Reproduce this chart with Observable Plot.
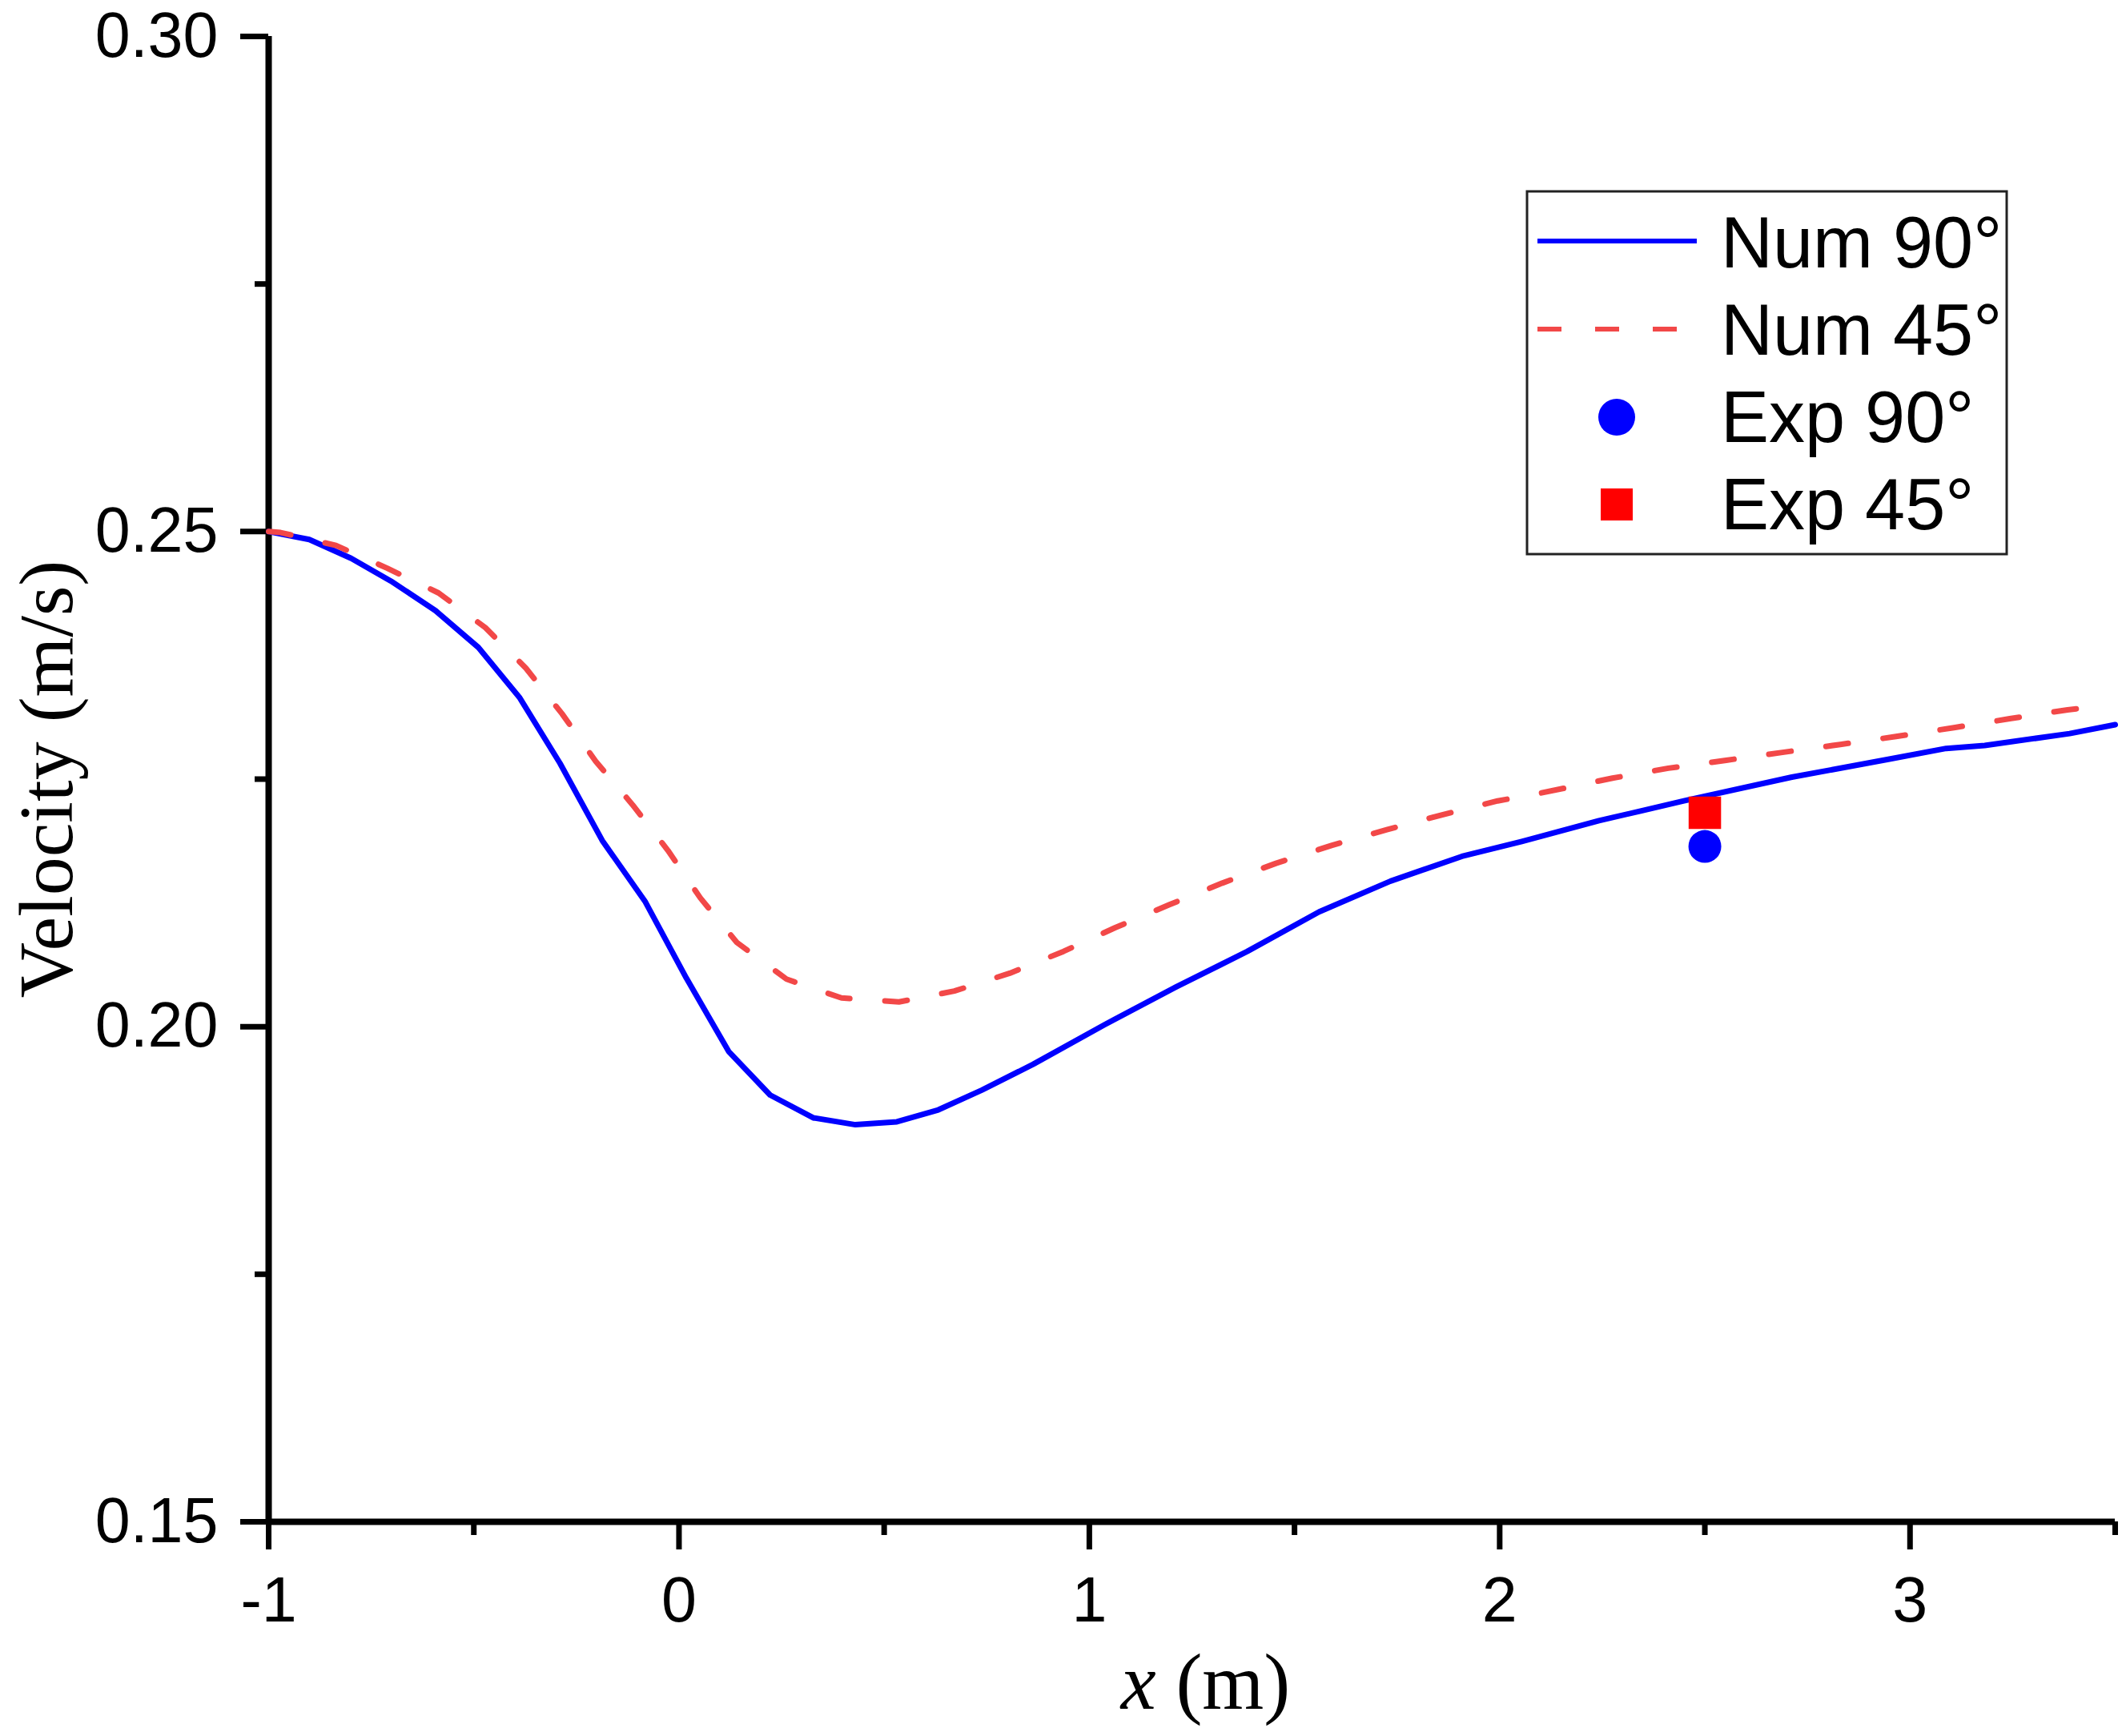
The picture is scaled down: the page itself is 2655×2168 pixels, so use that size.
<!DOCTYPE html>
<html><head><meta charset="utf-8">
<script src="https://cdn.jsdelivr.net/npm/d3@7"></script>
<script src="https://cdn.jsdelivr.net/npm/@observablehq/plot@0.6"></script>
<style>html,body{margin:0;padding:0;background:#fff;} svg{display:block;}</style>
</head><body><div id="chart"></div>
<script>
// Num 90° (solid blue)
const x90 = [-1.0, -0.901, -0.799, -0.702, -0.593, -0.489, -0.388, -0.290, -0.187, -0.082, 0.018, 0.121, 0.222, 0.327, 0.430, 0.531, 0.632, 0.738, 0.863, 1.037, 1.211, 1.385, 1.560, 1.734, 1.908, 2.054, 2.242, 2.449, 2.712, 2.947, 3.088, 3.182, 3.389, 3.5];
const v90 = [0.2500, 0.2492, 0.2473, 0.2450, 0.2420, 0.2383, 0.2332, 0.2266, 0.2188, 0.2126, 0.2049, 0.1975, 0.1931, 0.1908, 0.1901, 0.1904, 0.1916, 0.1936, 0.1962, 0.2002, 0.2040, 0.2076, 0.2116, 0.2147, 0.2172, 0.2187, 0.2208, 0.2228, 0.2252, 0.2270, 0.2281, 0.2284, 0.2296, 0.2305];
// Num 45° (dashed red)
const x45 = [-1.0, -0.971, -0.836, -0.711, -0.586, -0.472, -0.373, -0.285, -0.203, -0.113, -0.027, 0.052, 0.141, 0.262, 0.396, 0.536, 0.671, 0.806, 0.937, 1.063, 1.194, 1.324, 1.455, 1.590, 1.725, 1.860, 1.995, 2.101, 2.275, 2.411, 2.552, 2.689, 2.830, 2.966, 3.107, 3.243, 3.384, 3.45];
const v45 = [0.2500, 0.2499, 0.2486, 0.2463, 0.2438, 0.2403, 0.2362, 0.2316, 0.2268, 0.2224, 0.2178, 0.2130, 0.2085, 0.2048, 0.2029, 0.2025, 0.2036, 0.2054, 0.2076, 0.2100, 0.2123, 0.2145, 0.2165, 0.2183, 0.2199, 0.2214, 0.2228, 0.2236, 0.2251, 0.2261, 0.2269, 0.2277, 0.2285, 0.2293, 0.2302, 0.2311, 0.2320, 0.2323];
// Experiments
const expX = [2.5];
const exp90 = [0.2182];
const exp45 = [0.2216];
// Ticks
const xMajor = [-1, 0, 1, 2, 3];
const xMinor = [-0.5, 0.5, 1.5, 2.5, 3.5];
const yMajor = [0.15, 0.20, 0.25, 0.30];
const yMinor = [0.175, 0.225, 0.275];
const legendLabels = ["Num 90°", "Num 45°", "Exp 90°", "Exp 45°"];
const xTitleVar = "x";
const xTitleUnit = " (m)";
const yTitle = "Velocity (m/s)";

const BLUE = "#0000FF", RED_LINE = "#F24848", RED = "#FF0000";
const SANS = "'Liberation Sans', Arial, sans-serif";
const SERIF = "'Liberation Serif', 'Times New Roman', serif";

const num90 = x90.map((x, i) => ({x, v: v90[i]}));
const num45 = x45.map((x, i) => ({x, v: v45[i]}));
const e90 = expX.map((x, i) => ({x, v: exp90[i]}));
const e45 = expX.map((x, i) => ({x, v: exp45[i]}));

const plot = Plot.plot({
  width: 2655, height: 2168,
  marginLeft: 335, marginRight: 14, marginTop: 45, marginBottom: 268,
  style: {fontFamily: SANS, background: "#fff", color: "#000"},
  x: {domain: [-1, 3.5]},
  y: {domain: [0.15, 0.30]},
  marks: [
    Plot.axisX(xMajor, {tickSize: 35, tickPadding: 33, strokeWidth: 7, fontSize: 79, tickFormat: d => String(d), label: null}),
    Plot.axisX(xMinor, {tickSize: 17, strokeWidth: 7, tickFormat: () => "", label: null}),
    Plot.axisY(yMajor, {tickSize: 35, tickPadding: 28, strokeWidth: 7, fontSize: 79, tickFormat: d3.format(".2f"), label: null}),
    Plot.axisY(yMinor, {tickSize: 17, strokeWidth: 7, tickFormat: () => "", label: null}),
    Plot.ruleX([-1], {strokeWidth: 8}),
    Plot.ruleY([0.15], {strokeWidth: 8}),
    Plot.line(num90, {x: "x", y: "v", stroke: BLUE, strokeWidth: 7}),
    Plot.line(num45, {x: "x", y: "v", stroke: RED_LINE, strokeWidth: 7, strokeDasharray: "28,44"}),
    Plot.dot(e90, {x: "x", y: "v", r: 20.5, fill: BLUE, symbol: "circle"}),
    Plot.dot(e45, {x: "x", y: "v", r: 22.85, fill: RED, symbol: "square"}),
    Plot.text([yTitle], {frameAnchor: "left", textAnchor: "middle", rotate: -90, dx: -246, lineAnchor: "bottom", fontFamily: SERIF, fontSize: 96, fill: "#000"}),
    Plot.text([xTitleVar + xTitleUnit], {frameAnchor: "bottom", textAnchor: "middle", dx: 17, dy: 233, lineAnchor: "bottom", fontFamily: SERIF, fontSize: 99, fill: "#000"})
  ]
});

// italic variable in x title
d3.select(plot).selectAll("text").filter(function () { return this.textContent === xTitleVar + xTitleUnit; })
  .each(function () {
    const t = d3.select(this);
    t.text(null);
    t.append("tspan").attr("font-style", "italic").text(xTitleVar);
    t.append("tspan").text(xTitleUnit);
  });

// legend
const lg = d3.select(plot).append("g").attr("class", "legend").attr("text-anchor", "start");
lg.append("rect").attr("x", 1907).attr("y", 239).attr("width", 599).attr("height", 453)
  .attr("fill", "#fff").attr("stroke", "#222").attr("stroke-width", 3);
const rowY = [301, 411, 521, 630];
const baseY = [334, 443, 552, 661];
lg.append("line").attr("x1", 1920).attr("x2", 2119).attr("y1", rowY[0]).attr("y2", rowY[0])
  .attr("stroke", BLUE).attr("stroke-width", 6);
lg.append("line").attr("x1", 1920).attr("x2", 2094).attr("y1", rowY[1]).attr("y2", rowY[1])
  .attr("stroke", RED_LINE).attr("stroke-width", 6).attr("stroke-dasharray", "30,42");
lg.append("circle").attr("cx", 2019).attr("cy", rowY[2]).attr("r", 23).attr("fill", BLUE);
lg.append("rect").attr("x", 1999).attr("y", rowY[3] - 20).attr("width", 40).attr("height", 40).attr("fill", RED);
legendLabels.forEach((s, i) => {
  lg.append("text").attr("x", 2149).attr("y", baseY[i]).attr("font-family", SANS)
    .attr("text-anchor", "start").attr("font-size", 90).attr("fill", "#000").text(s);
});

document.getElementById("chart").appendChild(plot);
</script>
</body></html>
